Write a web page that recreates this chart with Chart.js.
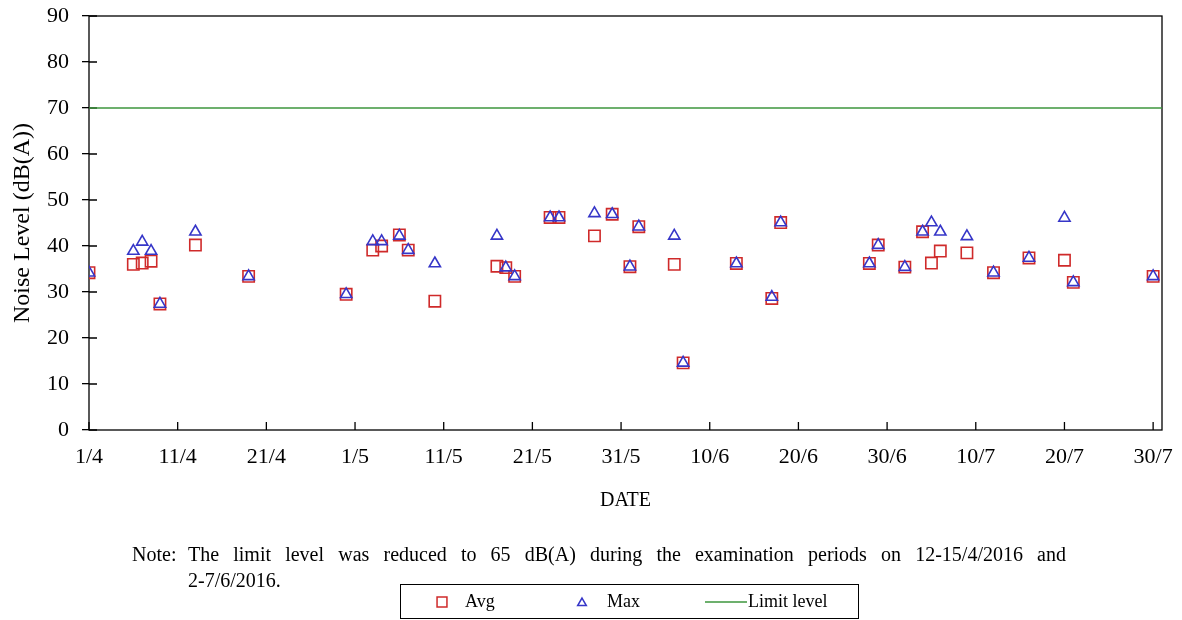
<!DOCTYPE html>
<html>
<head>
<meta charset="utf-8">
<script src="https://cdn.jsdelivr.net/npm/chart.js@4.4.1/dist/chart.umd.min.js"></script>
<style>
    body { margin: 0; background: #fff; }
    #wrap { width: 1182px; height: 620px; position: relative; }
</style>
</head>
<body>
<div id="wrap"><canvas id="noise-chart"></canvas></div>
<script>
// NOISE LEVEL - AVG / MAX / LIMIT, 1/4 to 30/7 (2016)

const tickLabels = ["1/4", "11/4", "21/4", "1/5", "11/5", "21/5", "31/5", "10/6", "20/6", "30/6", "10/7", "20/7", "30/7"];

const dates = ["1/4", "6/4", "7/4", "8/4", "9/4", "13/4", "19/4", "30/4", "3/5", "4/5",
    "6/5", "7/5", "10/5", "17/5", "18/5", "19/5", "23/5", "24/5", "28/5", "30/5",
    "1/6", "2/6", "6/6", "7/6", "13/6", "17/6", "18/6", "28/6", "29/6", "2/7",
    "4/7", "5/7", "6/7", "9/7", "12/7", "16/7", "20/7", "21/7", "30/7"];

const avgLevel = [34.2, 36.0, 36.3, 36.7, 27.4, 40.2, 33.4, 29.5, 39.1, 40.0,
    42.4, 39.1, 28.0, 35.6, 35.3, 33.4, 46.2, 46.2, 42.2, 46.9,
    35.5, 44.2, 36.0, 14.6, 36.2, 28.6, 45.1, 36.2, 40.2, 35.4,
    43.1, 36.3, 38.9, 38.5, 34.2, 37.4, 36.9, 32.1, 33.4];

const maxLevel = [34.2, 38.9, 40.9, 38.9, 27.4, 43.1, 33.4, 29.5, 41.0, 41.0,
    42.2, 39.1, 36.2, 42.2, 35.3, 33.4, 46.2, 46.2, 47.1, 46.9,
    35.5, 44.2, 42.2, 14.6, 36.2, 28.9, 45.1, 36.2, 40.2, 35.4,
    43.1, 45.1, 43.1, 42.1, 34.2, 37.4, 46.1, 32.1, 33.4];

const limitLevel = 70;
const lastDate = "31/7";

const noteLines = [
    "The limit level was reduced to 65 dB(A) during the examination periods on 12-15/4/2016 and",
    "2-7/6/2016."
];

// day count from 1 April
const monthStart = { 4: 0, 5: 30, 6: 61, 7: 91 };
function toDay(label) {
    const [d, m] = label.split("/").map(Number);
    return monthStart[m] + d - 1;
}

const serif = "'Liberation Serif', 'Times New Roman', serif";
Chart.defaults.font.family = serif;
Chart.defaults.color = "#000";

const RED = "#cf2a2a";
const BLUE = "#3636c8";
const GREEN = "#3c963c";

// box around the plot + ticks pointing inside
const framePlugin = {
    id: "frame",
    beforeDatasetsDraw(chart) {
        const { ctx, chartArea: a, scales: { x, y } } = chart;
        ctx.save();
        ctx.strokeStyle = "#000";
        ctx.lineWidth = 1.3;
        ctx.strokeRect(a.left, a.top, a.right - a.left, a.bottom - a.top);
        ctx.beginPath();
        y.ticks.forEach(t => {
            const py = y.getPixelForValue(t.value);
            ctx.moveTo(a.left, py);
            ctx.lineTo(a.left + 8, py);
        });
        x.ticks.forEach(t => {
            const px = x.getPixelForValue(t.value);
            ctx.moveTo(px, a.bottom);
            ctx.lineTo(px, a.bottom - 8);
        });
        ctx.stroke();
        ctx.restore();
    }
};

// note text and boxed legend under the axis
const notePlugin = {
    id: "note",
    afterDraw(chart) {
        const ctx = chart.ctx;
        ctx.save();
        ctx.fillStyle = "#000";
        ctx.textBaseline = "middle";
        ctx.font = "20px " + serif;
        ctx.fillText("Note:", 132, 556);

        // spread line 1 out to the width it has in the report
        const spaces = noteLines[0].split(" ").length - 1;
        const natural = ctx.measureText(noteLines[0]).width;
        const extra = Math.max(0, (1066 - 188 - natural) / spaces);
        if ("wordSpacing" in ctx) ctx.wordSpacing = extra + "px";
        ctx.fillText(noteLines[0], 188, 556);
        if ("wordSpacing" in ctx) ctx.wordSpacing = "0px";
        ctx.fillText(noteLines[1], 188, 582);

        // legend
        ctx.strokeStyle = "#000";
        ctx.lineWidth = 1;
        ctx.strokeRect(400.5, 584.5, 458, 34);
        const ly = 602;
        const ds = chart.data.datasets;
        const avg = ds.find(d => d.label === "Avg");
        const max = ds.find(d => d.label === "Max");
        const lim = ds.find(d => d.label === "Limit level");

        ctx.lineWidth = 1.5;
        ctx.fillStyle = "rgba(0,0,0,0)";
        ctx.strokeStyle = avg.borderColor;
        Chart.helpers.drawPoint(ctx, { pointStyle: "rect", radius: 7, borderWidth: 1.5, rotation: 0 }, 442, ly);
        ctx.strokeStyle = max.borderColor;
        Chart.helpers.drawPoint(ctx, { pointStyle: "triangle", radius: 5, borderWidth: 1.5, rotation: 0 }, 582, ly + 1);
        ctx.strokeStyle = lim.borderColor;
        ctx.beginPath();
        ctx.moveTo(705, ly);
        ctx.lineTo(747, ly);
        ctx.stroke();

        ctx.font = "18px " + serif;
        ctx.fillStyle = "#000";
        ctx.fillText(avg.label, 465, ly);
        ctx.fillText(max.label, 607, ly);
        ctx.fillText(lim.label, 748, ly);
        ctx.restore();
    }
};

const config = {
    type: "scatter",
    data: {
        datasets: [
            {
                label: "Max",
                data: dates.map((d, i) => ({ x: toDay(d), y: maxLevel[i] })),
                pointStyle: "triangle",
                pointRadius: 6.5,
                pointHoverRadius: 6.5,
                backgroundColor: "rgba(0,0,0,0)",
                borderColor: BLUE,
                pointBorderWidth: 1.6,
                order: 0,
            },
            {
                label: "Avg",
                data: dates.map((d, i) => ({ x: toDay(d), y: avgLevel[i] })),
                pointStyle: "rect",
                pointRadius: 8,
                pointHoverRadius: 8,
                backgroundColor: "rgba(0,0,0,0)",
                borderColor: RED,
                pointBorderWidth: 1.6,
                order: 1,
            },
            {
                type: "line",
                label: "Limit level",
                data: [{ x: 0, y: limitLevel }, { x: toDay(lastDate), y: limitLevel }],
                borderColor: GREEN,
                borderWidth: 1.5,
                pointRadius: 0,
                fill: false,
                order: 2,
            }
        ]
    },
    options: {
        responsive: true,
        maintainAspectRatio: false,
        animation: false,
        layout: {
            padding: { left: 0, right: 20, top: 16, bottom: 100 }
        },
        plugins: {
            legend: { display: false },
            tooltip: { enabled: false },
        },
        scales: {
            x: {
                type: "linear",
                min: 0,
                max: toDay(lastDate),
                afterBuildTicks: scale => {
                    scale.ticks = tickLabels.map(l => ({ value: toDay(l) }));
                },
                afterFit: scale => {
                    scale.height = 90;
                    scale.paddingLeft = 0;
                    scale.paddingRight = 0;
                },
                ticks: {
                    autoSkip: false,
                    maxRotation: 0,
                    padding: 14,
                    font: { size: 22 },
                    callback: value => tickLabels.find(l => toDay(l) === value),
                },
                grid: { display: false, drawTicks: false },
                border: { display: false },
                title: {
                    display: true,
                    text: "DATE",
                    font: { size: 20 },
                    padding: { top: 0, bottom: 7 },
                }
            },
            y: {
                min: 0,
                max: 90,
                afterFit: scale => {
                    scale.width = 89;
                    scale.paddingTop = 0;
                    scale.paddingBottom = 0;
                },
                ticks: {
                    stepSize: 10,
                    padding: 13,
                    font: { size: 22 },
                },
                grid: {
                    drawOnChartArea: false,
                    tickLength: 7,
                    color: "#000",
                    lineWidth: 1.3,
                },
                border: { display: false },
                title: {
                    display: true,
                    text: "Noise Level (dB(A))",
                    font: { size: 24 },
                    padding: { top: 8, bottom: 0 },
                }
            }
        }
    },
    plugins: [framePlugin, notePlugin]
};

const ctx = document.getElementById("noise-chart").getContext("2d");
new Chart(ctx, config);
</script>
</body>
</html>
